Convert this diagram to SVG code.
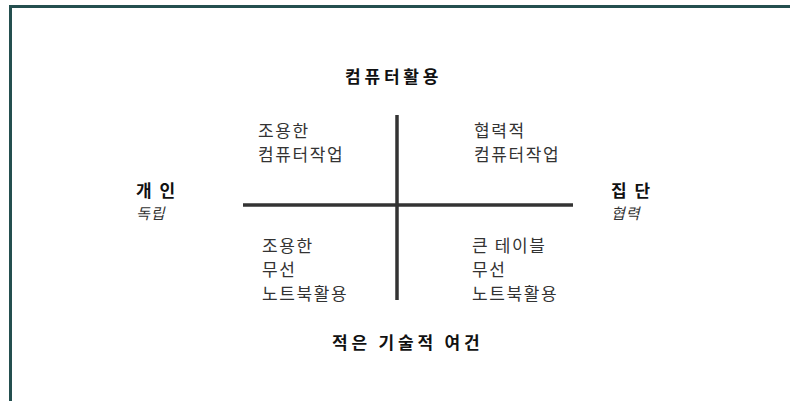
<svg xmlns="http://www.w3.org/2000/svg" width="790" height="401" viewBox="0 0 790 401">
<style>
.t{font-family:"Noto Sans CJK KR","Liberation Sans",sans-serif;font-size:17px;fill:#333;letter-spacing:1.6px}
.b{font-family:"Noto Sans CJK KR","Liberation Sans",sans-serif;font-size:17px;font-weight:bold;fill:#111;letter-spacing:3.8px}
.i{font-family:"Noto Sans CJK KR","Liberation Sans",sans-serif;font-size:15px;font-style:italic;fill:#333;letter-spacing:1px}
.ax{stroke:#333;stroke-width:3.5;fill:none}
</style>
<rect width="790" height="401" fill="#fff"/>
<path d="M10.5,401 V6.5 H790" fill="none" stroke="#244f4f" stroke-width="3"/>
<g id="connectors">
<line class="ax" x1="243" y1="205" x2="573" y2="205"/>
<line class="ax" x1="397" y1="115" x2="397" y2="300"/>
</g>
<g id="top"><text class="b" x="345" y="83">컴퓨터활용</text></g>
<g id="bottom"><text class="b" x="332" y="349">적은 기술적 여건</text></g>
<g id="left"><text class="b" x="136" y="197" style="letter-spacing:2px">개 인</text><text class="i" x="136" y="219">독립</text></g>
<g id="right"><text class="b" x="611" y="197" style="letter-spacing:2px">집 단</text><text class="i" x="611" y="219">협력</text></g>
<g id="q1"><text class="t" x="258" y="137">조용한</text><text class="t" x="258" y="161">컴퓨터작업</text></g>
<g id="q2"><text class="t" x="474" y="137">협력적</text><text class="t" x="474" y="161">컴퓨터작업</text></g>
<g id="q3"><text class="t" x="262" y="252">조용한</text><text class="t" x="262" y="276">무선</text><text class="t" x="262" y="300">노트북활용</text></g>
<g id="q4"><text class="t" x="472" y="252">큰 테이블</text><text class="t" x="472" y="276">무선</text><text class="t" x="472" y="300">노트북활용</text></g>
</svg>
